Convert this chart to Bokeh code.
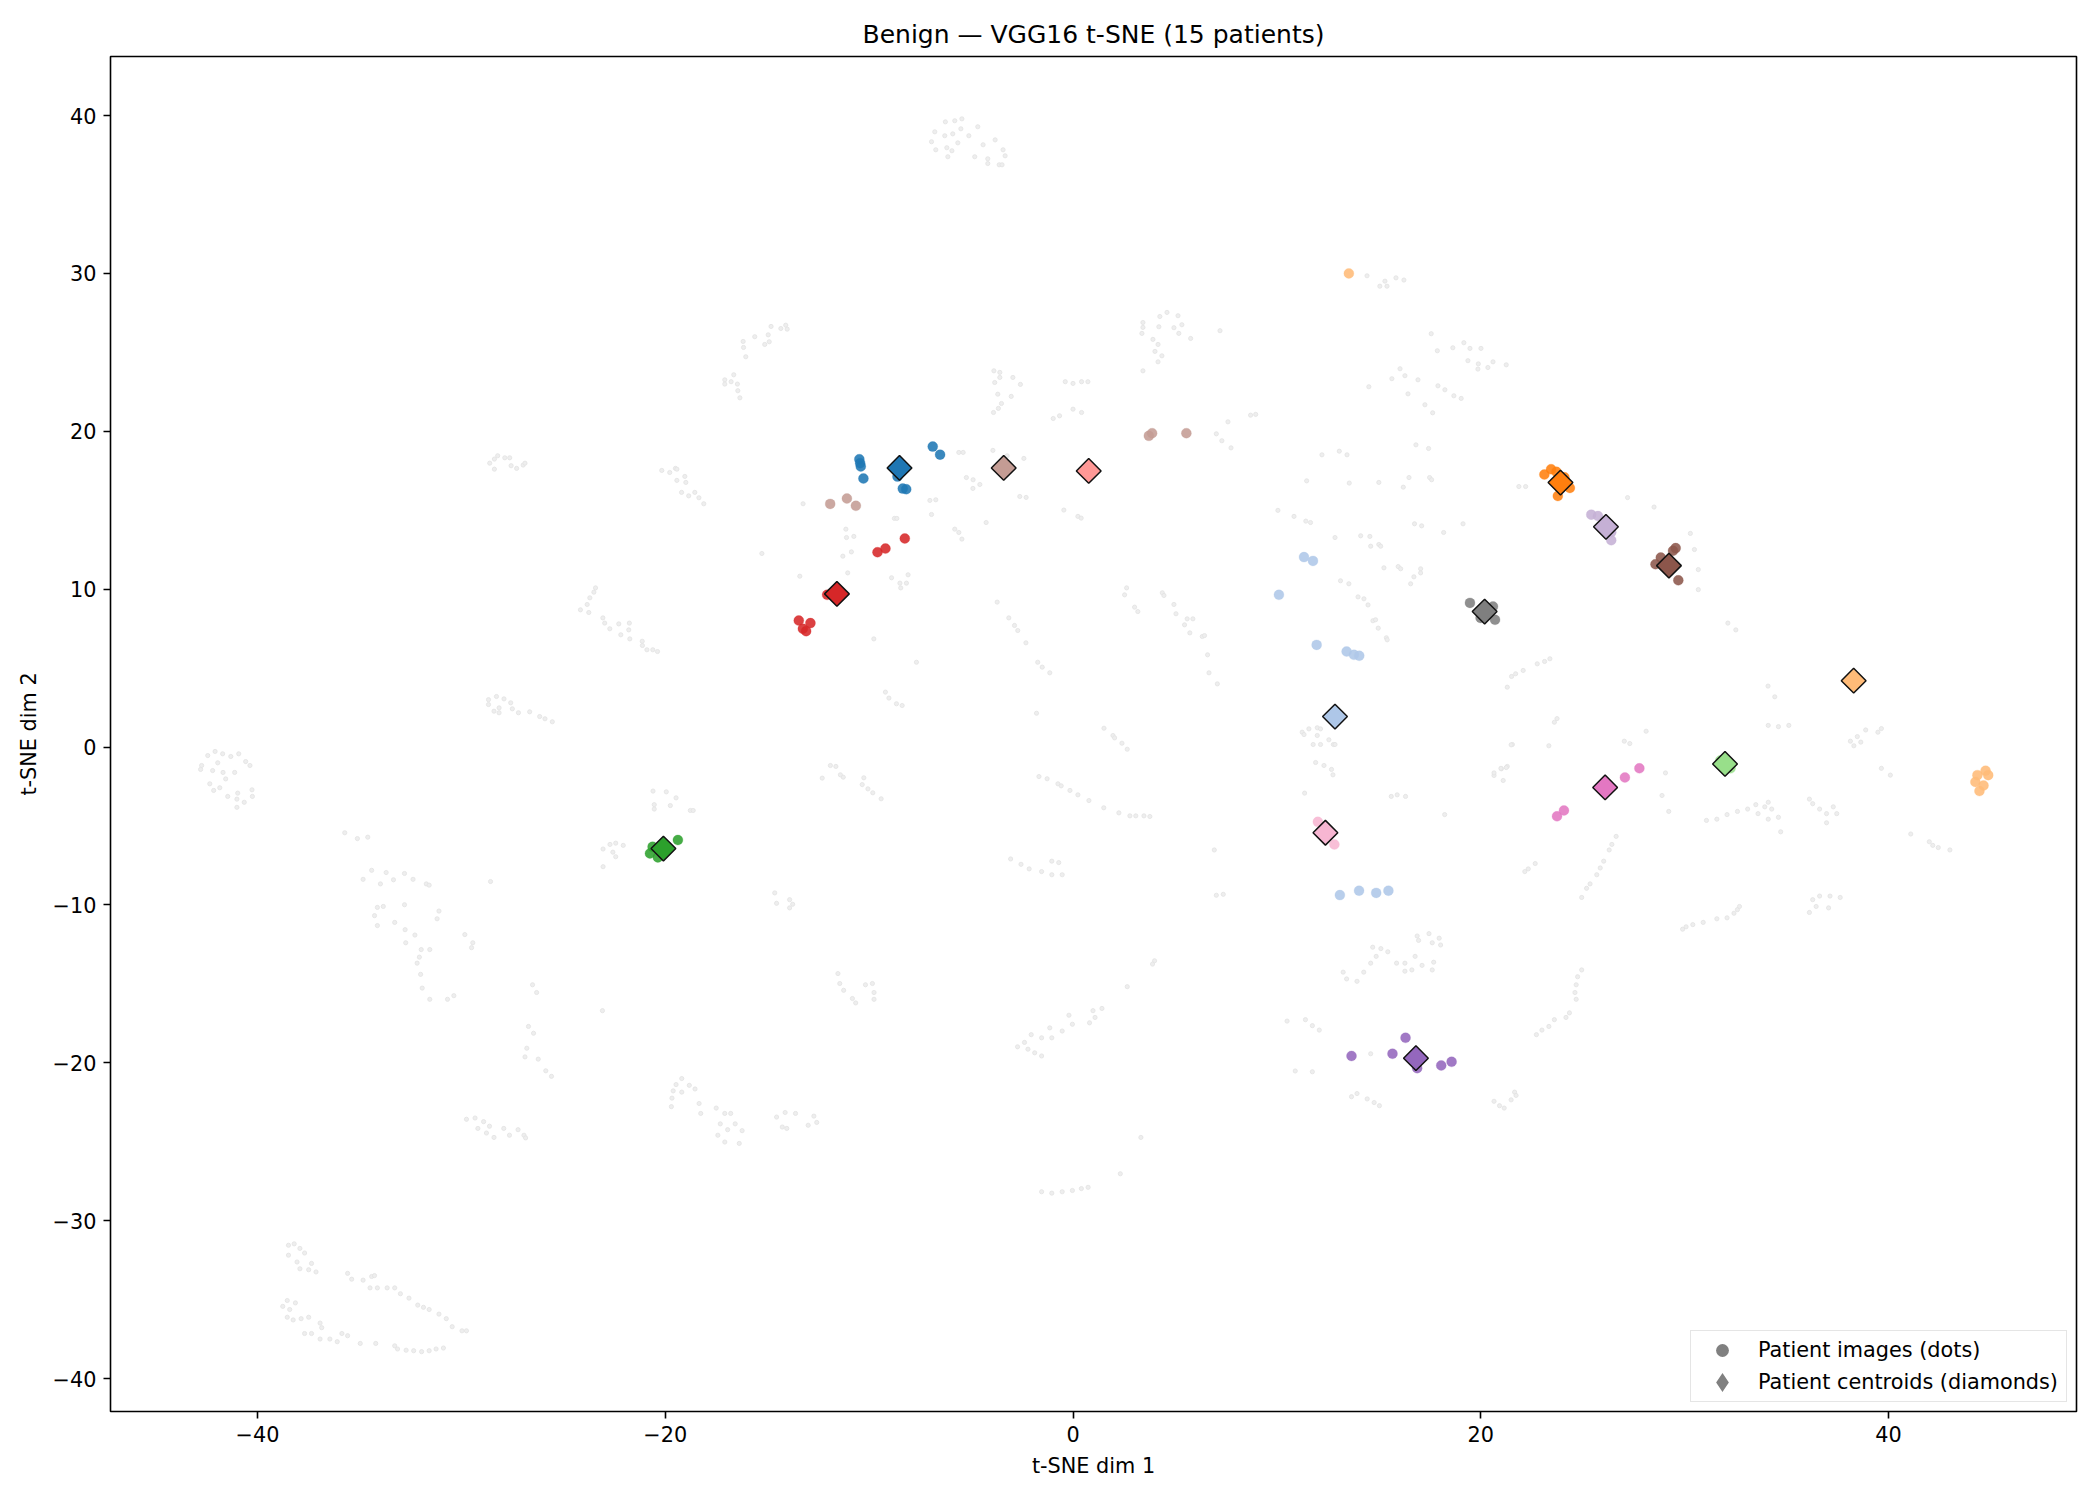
import math
from bokeh.plotting import figure
from bokeh.models import (Range1d, FixedTicker, CustomJSTickFormatter, Legend, LegendItem,
                          ColumnDataSource)
from bokeh.embed import file_html
from bokeh.resources import INLINE

TITLE = "Benign \u2014 VGG16 t-SNE (15 patients)"
X_LABEL = "t-SNE dim 1"
Y_LABEL = "t-SNE dim 2"
X_TICKS = [-40, -20, 0, 20, 40]
Y_TICKS = [-40, -30, -20, -10, 0, 10, 20, 30, 40]
LEGEND_LABELS = ["Patient images (dots)", "Patient centroids (diamonds)"]

# tab20 colours, one per patient
patient_colors = ["#1f77b4", "#aec7e8", "#ff7f0e", "#ffbb78", "#2ca02c",
                  "#98df8a", "#d62728", "#ff9896", "#9467bd", "#c5b0d5",
                  "#8c564b", "#c49c94", "#e377c2", "#f7b6d2", "#7f7f7f"]

# per-patient image embeddings
dot_x = [
    [-10.48, -10.44, -10.41, -10.28, -8.61, -8.35, -8.18, -6.88, -6.52],
    [11.33, 11.77, 10.10, 11.95, 13.42, 13.78, 14.04, 13.09, 14.03, 14.87, 15.47],
    [23.12, 23.45, 23.71, 24.10, 24.37, 23.78, 23.91],
    [13.53, 44.36, 44.76, 44.89, 44.26, 44.66, 44.46],
    [-20.75, -20.62, -20.36, -20.16, -19.38],
    [32.25, 31.75],
    [-13.45, -12.88, -13.25, -13.09, -9.59, -9.20, -8.25, -12.06],
    [0.77],
    [16.31, 15.67, 13.66, 16.88, 18.06, 18.57],
    [25.42, 25.75, 26.08, 26.40, 26.40],
    [28.57, 28.83, 29.43, 29.56, 29.69, 29.16],
    [-11.91, -11.09, -10.65, 3.72, 3.88, 5.56],
    [23.74, 24.08, 27.07, 27.78],
    [12.01, 12.82],
    [19.47, 19.99, 20.70, 20.60],
]
dot_y = [
    [18.23, 17.98, 17.77, 17.01, 17.13, 16.37, 16.33, 19.03, 18.52],
    [12.03, 11.79, 9.64, 6.47, 6.05, 5.84, 5.78, -9.38, -9.10, -9.24, -9.10],
    [17.26, 17.60, 17.43, 17.09, 16.41, 15.90, 16.41],
    [30.00, -1.78, -1.50, -1.78, -2.21, -2.44, -2.79],
    [-6.74, -6.32, -6.99, -6.57, -5.89],
    [-1.35, -0.85],
    [8.01, 7.85, 7.49, 7.34, 12.34, 12.57, 13.21, 9.64],
    [17.49],
    [-18.42, -19.43, -19.57, -20.34, -20.17, -19.94],
    [14.72, 14.63, 14.29, 13.61, 13.10],
    [11.58, 12.00, 12.43, 12.60, 10.56, 11.24],
    [15.40, 15.74, 15.28, 19.71, 19.88, 19.88],
    [-4.39, -4.02, -1.93, -1.35],
    [-4.74, -6.17],
    [9.13, 8.18, 8.06, 8.90],
]

# patient centroids
cent_x = [-8.51, 12.85, 23.91, 38.29, -20.09, 31.98, -11.58, 0.77, 16.82, 26.14,
          29.23, -3.40, 26.10, 12.38, 20.19]
cent_y = [17.68, 1.93, 16.75, 4.20, -6.43, -1.07, 9.70, 17.49, -19.71, 13.95,
          11.49, 17.68, -2.56, -5.43, 8.58]

# all other images of the class (background)
bg_x = [
    -28.61, -28.38, -28.22, -28.38, -27.87, -27.63, -27.56, -27.29, -26.97, -26.88,
    -6.26, -5.80, -5.45, -6.78, -6.29, -5.90, -5.50, -5.11, -4.67, -6.94, -5.65, -6.73,
    -6.19, -5.94, -6.14, -4.82, -4.41, -3.82, -4.18, -4.18, -3.43, -3.33, -3.62, -3.48,
    -16.18, -16.16, -16.05, -15.61, -15.12, -14.95, -14.90, -14.81, -14.33, -14.09,
    -14.02, -16.64, -17.08, -17.08, -16.77, -16.46, -16.44, -16.34,
    -20.17, -19.78, -19.50, -19.43, -19.04, -18.99, -19.43, -19.20, -18.85, -18.55,
    -18.35, -18.11,
    -3.88, -3.59, -3.59, -3.84, -2.95, -2.58, -3.69, -3.03, -3.51, -3.66, -3.90, -0.97,
    -0.66, -5.60, -5.39, -3.93, -3.23, -2.41, -5.23, -4.90, -4.57, -4.91, -2.61, -2.30,
    -7.02, -6.73, -6.94, -8.76, -8.64, -4.26, -5.80, -5.60, -5.45, -11.14, -11.11,
    -10.75, -13.24,
    14.42, 15.05, 15.30, 15.40, 15.84, 16.23,
    3.43, 3.43, 3.38, 4.26, 4.61, 5.15, 4.21, 4.95, 5.34, 5.19, 5.77, 3.92, 4.17, 4.02,
    4.36, 4.17, 3.43, 7.21,
    -0.38, 0.00, 0.42, 0.73, 0.00, 0.42,
    8.71, 8.96, 7.60, 7.03, 7.30, 7.75,
    17.57, 17.87, 18.63, 19.17, 19.47, 20.01, 19.37, 19.88, 19.86, 20.35, 20.60, 21.25,
    16.04, 16.28, 15.64, 14.51, 16.92, 16.43, 17.90, 18.24, 18.68, 19.04, 17.26, 17.64,
    12.21, 13.06, 13.44, 11.46, 13.55, 15.00, 16.20, 16.48, 17.44, 16.82, 17.49, 17.59,
    21.87, 22.20,
    -0.45, 0.24, 0.40,
    10.05, 10.84, 11.42, 11.65, 12.85, 14.11, 14.56, 16.75, 17.10, 18.18, 19.13,
    -28.67, -28.67, -28.28, -27.91, -27.58, -27.50, -27.20, -28.40, -28.15, -28.15,
    -26.65, -26.16, -25.90, -25.54,
    -42.44, -42.08, -41.71, -41.31, -40.92, -40.58, -40.37, -41.95, -42.20, -41.69,
    -41.12, -41.56, -42.74, -42.79, -42.34, -42.15, -41.85, -40.97, -40.27, -40.25,
    -41.46, -40.65, -41.01, -41.01,
    -15.26, -13.40, -11.29, -10.87, -11.05,
    -8.90, -8.49, -8.17, -8.09, -8.45,
    -3.72, -3.15, -2.87, -2.71, -2.31, -1.73, -1.51, -1.14,
    -9.77, -7.68,
    -9.20, -9.03, -8.66, -8.38,
    -1.79,
    -11.90, -11.63, -12.30, -11.41, -11.27, -10.26, -10.34, -10.06, -9.82, -9.41,
    -23.42, -23.50, -23.70, -23.83, -24.16, -23.75, -23.06, -22.97, -22.72, -22.28,
    -21.76, -21.79, -22.18, -21.74, -21.13, -21.12, -20.90, -20.61, -20.38,
    15.00, 15.09, 14.60,
    15.25, 15.95, 16.07, 17.05, 17.05, 16.72, 16.56,
    13.12, 13.53, 13.98, 14.27, 14.47, 14.71, 14.84, 14.97, 15.37, 15.41,
    2.63, 2.53, 4.38, 4.46, 4.95, 5.05, 3.02, 3.18, 5.60, 5.88, 5.47, 5.73, 6.34, 6.45,
    6.60, 6.67, 7.08,
    1.52, 1.96, 2.04, 2.40, 2.66,
    11.24, 11.33, 11.57, 11.98, 12.14, 11.98, 11.78, 12.14, 12.55, 12.77, 12.85, 11.90,
    12.31, 12.68, 12.75,
    11.36,
    15.61, 15.90, 16.31,
    21.55, 20.65, 21.01, 21.30, 21.10,
    21.30, 21.51, 21.71, 22.08, 22.77, 23.13, 23.39,
    -1.67, -1.27, -0.74, -0.58, -0.15, 0.24, 0.78, 1.51, 2.25, 2.79, 3.08, 3.48, 3.77,
    -35.72, -35.10, -34.59,
    -34.82, -34.40, -33.97, -33.69, -33.33, -32.79, -32.37, -31.72, -31.58, -34.12,
    -33.83, -32.79, -34.26, -34.12, -33.27, -32.76, -32.28, -32.73, -31.97, -31.55,
    -32.06, -32.17, -32.00, -31.92, -31.55, -30.68, -30.37, -31.10, -31.19, -29.83,
    -29.44, -29.50, -28.57,
    -26.51, -26.31, -26.71, -26.46, -26.79, -26.88, -26.23, -25.86, -25.58,
    -23.08,
    -23.05, -22.71, -22.43, -22.06, -22.57, -22.43, -23.05,
    -20.60, -19.95, -19.47, -20.54, -20.54, -19.75, -18.77, -18.63,
    -14.63, -14.54, -13.90, -13.75, -13.90,
    -11.53, -11.44, -11.25, -10.82, -10.66, -10.18, -9.84, -9.76, -9.76,
    -29.75, -29.33, -28.91, -28.62, -29.19, -28.77, -28.40, -27.92, -27.64, -27.22,
    -26.93, -26.85,
    -19.19, -19.47, -18.82, -19.61, -19.19, -19.67, -18.54, -18.34, -19.70, -18.26,
    -17.50, -17.08, -16.79, -17.30, -16.94, -16.57, -17.42, -17.08, -16.37, -16.23,
    -14.54, -14.12, -13.61, -14.26, -14.04, -12.99, -12.71, -12.57,
    -38.48, -38.20, -37.92, -37.69, -38.48, -38.06, -37.35, -37.92, -37.49, -37.13,
    -35.58, -35.38, -34.82, -34.40, -34.26, -34.48, -34.12, -33.64, -33.27, -32.99,
    -32.57, -32.14, -31.86, -31.58, -31.10, -30.74, -30.45, -29.97, -29.75,
    -38.54, -38.14, -38.76, -38.42, -38.54, -38.25, -37.86, -37.49, -36.93, -36.85,
    -37.69, -37.35, -36.93, -36.45, -36.09, -35.86, -35.58, -34.96, -34.20, -33.27,
    -33.13, -32.71, -32.34, -31.95, -31.58, -31.24, -30.88,
    -3.06, -2.55, -2.15, -1.04, -0.70, -1.54, -1.04, -0.53,
    6.93, 7.03, 7.37, 4.00, 3.90, 2.66,
    1.42, 0.98, 1.08, 0.81, -0.20, -0.03, -0.53, -1.14, -1.54, -1.04, -2.05, -2.38,
    -2.72, -2.21, -1.88, -1.54,
    3.33, 2.32,
    -1.54, -1.04, -0.53, -0.03, 0.41, 0.74,
    10.50, 11.40, 11.74, 12.08,
    10.90, 11.74,
    13.66, 13.93, 14.43, 14.77, 15.03,
    14.60,
    20.65, 20.92, 21.15, 21.49, 21.66, 21.73,
    18.23,
    14.70, 15.10, 15.44, 14.87, 15.87, 14.60, 14.26, 13.25, 13.42, 13.93, 16.28, 16.62,
    16.88, 16.95, 17.46, 17.62, 17.96, 18.03, 17.12, 16.78, 16.28, 17.62, 17.69,
    20.65, 20.99, 21.25, 21.49, 23.34, 23.74, 23.61, 27.04, 27.31, 28.11,
    29.06, 28.89, 29.22,
    26.64, 26.43, 26.30, 26.03, 25.86, 25.69, 25.36, 25.19, 24.95,
    22.67, 22.33, 22.16,
    24.95, 24.75, 24.68, 24.62, 24.68, 24.35, 24.18, 23.61, 23.34, 23.00, 22.73,
    30.07, 29.90, 30.40, 30.91, 31.58, 32.08, 32.42, 32.59, 32.69,
    36.28, 36.62, 37.13, 37.63, 36.45, 37.06, 36.12,
    31.07, 31.58, 32.08, 32.59, 33.09, 33.49, 33.93, 34.10, 34.27, 34.60, 34.71, 33.60,
    34.10,
    36.12, 36.28, 36.62, 36.96, 37.29, 37.46, 36.96,
    34.10, 34.60, 35.11,
    38.13, 38.47, 38.88, 39.48, 38.30, 38.64, 39.65,
    39.65, 40.09,
    41.09, 42.00, 42.44, 43.01, 42.17,
    30.28, 30.48, 30.67, 30.67, 32.12, 32.51, 34.09, 34.42, 28.50, 27.20,
]
bg_y = [
    17.98, 18.24, 18.45, 17.60, 18.32, 18.32, 17.82, 17.65, 17.86, 17.98,
    39.60, 39.67, 39.79, 38.97, 38.72, 38.84, 39.16, 38.72, 39.29, 38.34, 38.27, 37.83,
    37.96, 37.77, 37.39, 37.39, 38.15, 38.46, 37.26, 36.96, 37.83, 37.45, 36.88, 36.88,
    25.69, 25.31, 24.72, 25.99, 25.50, 26.11, 25.67, 26.64, 26.51, 26.72,
    26.47, 23.58, 23.26, 22.99, 23.14, 22.99, 22.57, 22.12,
    17.52, 17.39, 17.65, 17.60, 17.14, 16.76, 16.89, 16.13, 15.91, 16.13,
    15.79, 15.41,
    23.83, 23.73, 23.41, 23.09, 23.41, 22.97, 22.35, 22.21, 21.76, 21.45, 21.19, 20.81,
    20.98, 18.66, 18.66, 18.79, 18.45, 18.28, 17.07, 16.93, 16.63, 16.38, 15.87, 15.81,
    15.62, 15.66, 14.73, 14.48, 14.48, 14.22, 13.80, 13.59, 13.17, 13.80, 13.27,
    13.34, 15.41,
    29.85, 29.19, 29.51, 29.19, 29.72, 29.58,
    26.89, 26.58, 26.20, 27.27, 27.53, 27.32, 26.62, 26.56, 26.75, 26.20, 25.88, 25.82,
    25.50, 25.06, 24.78, 24.40, 23.83, 26.37,
    23.14, 23.03, 23.14, 23.14, 21.40, 21.19,
    21.02, 21.07, 20.60, 19.84, 19.40, 18.95,
    26.18, 25.10, 25.29, 25.61, 25.25, 25.25, 24.47, 24.27, 23.94, 24.04, 24.40, 24.21,
    23.96, 23.52, 23.33, 22.82, 23.26, 22.37, 22.88, 22.63, 22.25, 22.08, 21.68, 21.17,
    18.51, 18.74, 18.51, 16.86, 16.72, 16.76, 16.46, 17.07, 18.91, 19.14, 17.07, 16.93,
    16.50, 16.50,
    15.01, 14.61, 14.50,
    14.99, 14.61, 14.31, 14.22, 13.27, 13.38, 13.34, 14.14, 14.01, 13.59, 14.14,
    3.00, 2.69, 3.20, 3.05, 2.80, 2.42, 2.17, 2.27, 2.48, 2.17,
    2.23, 1.93, 1.79, 1.60,
    -0.54, -0.28, -0.43, -0.60, -0.43, -0.92, -1.17, -1.00, -1.49, -1.61,
    -1.61, -2.02, -1.17, -1.42, -2.33, -2.75, -2.58, -2.92, -2.71, -3.13,
    -3.13, -3.50, -3.82, -3.30,
    12.26, 10.82, 12.09, 12.36, 11.03,
    10.72, 10.38, 10.38, 10.91, 10.08,
    9.18, 8.18, 7.70, 7.38, 6.60, 5.37, 5.06, 4.70,
    6.85, 5.37,
    3.48, 3.10, 2.74, 2.63,
    2.14,
    -1.17, -1.23, -1.97, -1.76, -1.91, -1.95, -2.38, -2.65, -2.90, -3.28,
    10.08, 9.81, 9.45, 9.03, 8.69, 8.52, 8.18, 7.85, 7.49, 7.80,
    7.85, 7.42, 7.11, 6.85, 6.70, 6.43, 6.16, 6.16, 6.05,
    12.83, 12.72, 12.72,
    11.35, 11.43, 11.29, 11.29, 11.03, 10.78, 10.34,
    10.53, 10.34, 9.51, 9.39, 9.00, 8.00, 8.06, 7.53, 6.92, 6.79,
    10.08, 9.64, 9.77, 9.60, 9.03, 8.44, 8.86, 8.58, 8.12, 8.12, 7.74, 7.23, 7.00, 7.06,
    5.84, 4.70, 4.00,
    1.19, 0.73, 0.58, 0.24, -0.14,
    0.94, 0.79, 1.15, 1.22, 1.15, 0.73, 0.16, 0.16, 0.46, 0.16, 0.16, -0.98,
    -1.17, -1.42, -1.76,
    -2.92,
    -3.13, -3.03, -3.13,
    0.16, -1.80, -1.38, -1.23, -2.12,
    3.79, 4.47, 4.64, 4.85, 5.27, 5.42, 5.59,
    -1.87, -2.01, -2.33, -2.46, -2.75, -3.03, -3.39, -3.85, -4.17, -4.36, -4.36, -4.36, -4.40,
    -5.43, -5.80, -5.71,
    -8.38, -7.81, -8.67, -7.95, -8.41, -8.01, -8.38, -8.67, -8.75, -10.16,
    -10.10, -9.99, -10.68, -11.31, -11.11, -11.57, -11.91, -12.40, -12.83, -12.83,
    -13.31, -13.69, -14.40, -15.27, -15.98, -15.98, -15.75, -10.39, -10.88, -11.88,
    -12.40, -12.71, -8.52,
    -15.06, -15.55, -17.70, -18.13, -19.08, -19.63, -19.77, -20.51, -20.86,
    -16.70,
    -6.46, -6.17, -6.09, -6.23, -6.66, -6.95, -7.58,
    -2.79, -2.84, -3.22, -3.65, -3.93, -3.71, -4.02, -4.02,
    -9.24, -9.90, -9.67, -9.96, -10.19,
    -14.35, -14.98, -15.41, -15.93, -16.21, -15.06, -14.98, -15.55, -15.98,
    -23.58, -23.50, -23.73, -24.02, -24.16, -24.45, -24.73, -24.16, -24.59, -24.24,
    -24.59, -24.76,
    -21.00, -21.38, -21.43, -21.78, -21.86, -22.24, -21.66, -22.58, -22.78, -23.21,
    -22.87, -23.21, -23.21, -23.87, -24.24, -23.87, -24.59, -25.02, -25.11, -24.30,
    -23.44, -23.15, -23.21, -24.07, -24.16, -23.96, -23.38, -23.78,
    -31.56, -31.47, -31.76, -32.05, -32.19, -32.62, -32.71, -33.05, -33.11, -33.25,
    -33.34, -33.71, -33.77, -33.54, -33.48, -34.26, -34.26, -34.26, -34.26, -34.63,
    -34.91, -35.35, -35.49, -35.63, -35.92, -36.21, -36.72, -36.98, -36.98,
    -35.06, -35.21, -35.43, -35.63, -36.12, -36.29, -36.21, -36.12, -36.49, -36.78,
    -37.15, -37.15, -37.50, -37.50, -37.67, -37.15, -37.29, -37.78, -37.78, -37.93,
    -38.13, -38.21, -38.24, -38.30, -38.24, -38.13, -38.07,
    -7.09, -7.43, -7.72, -7.23, -7.32, -7.89, -8.09, -8.09,
    -6.52, -9.39, -9.33, -13.54, -13.75, -15.18,
    -16.56, -16.70, -17.13, -17.47, -16.99, -17.56, -17.99, -17.79, -18.42, -18.42,
    -18.22, -18.71, -18.99, -19.14, -19.37, -19.57,
    -24.73, -27.03,
    -28.17, -28.26, -28.17, -28.09, -27.97, -27.89,
    -17.36, -17.27, -17.65, -17.93,
    -20.52, -20.57,
    -22.15, -21.95, -22.29, -22.52, -22.72,
    -19.43,
    -22.44, -22.72, -22.87, -22.35, -21.86, -22.07,
    -4.28,
    -12.68, -12.77, -12.97, -13.26, -13.69, -13.69, -14.26, -14.26, -14.69, -14.84,
    -14.20, -14.12, -11.97, -12.25, -11.82, -12.40, -12.11, -12.54, -13.83, -13.26,
    -13.69, -14.12, -13.63,
    -1.64, -1.35, -1.30, 0.14, 0.08, 1.80, 1.57, 0.37, 0.22, 1.00,
    -1.64, -3.07, -4.08,
    -5.66, -6.17, -6.52, -7.23, -7.66, -8.09, -8.67, -8.95, -9.53,
    -7.38, -7.72, -7.89,
    -14.12, -14.55, -15.06, -15.55, -15.98, -16.84, -17.13, -17.27, -17.70, -17.93, -18.22,
    -11.39, -11.54, -11.25, -11.11, -10.88, -10.82, -10.53, -10.30, -10.10,
    -9.67, -9.44, -9.44, -9.53, -10.10, -10.19, -10.48,
    -4.65, -4.57, -4.28, -4.08, -3.93, -3.65, -3.79, -3.50, -3.93, -4.45, -5.37, -4.22,
    -4.57,
    -3.30, -3.59, -3.93, -4.22, -3.79, -4.22, -4.80,
    1.37, 1.29, 1.37,
    0.37, 0.66, 1.08, 0.94, 0.08, 0.31, 1.17,
    -1.35, -1.78,
    -5.51, -6.00, -6.37, -6.52, -6.23,
    13.53, 12.51, 11.24, 9.97, 7.85, 7.42, 3.86, 3.18, 15.20, 15.80,
]

FONT = "DejaVu Sans"

p = figure(width=2084, height=1484, output_backend="svg", toolbar_location=None,
           x_range=Range1d(-47.21, 49.22), y_range=Range1d(-42.09, 43.74),
           title=TITLE)
p.min_border_left = 110
p.min_border_right = 8
p.min_border_top = 56
p.min_border_bottom = 73
p.background_fill_color = "white"
p.border_fill_color = "white"
p.outline_line_color = "black"
p.outline_line_width = 1.6
p.xgrid.visible = False
p.ygrid.visible = False

p.title.align = "center"
p.title.text_font = FONT
p.title.text_font_size = "25px"
p.title.text_font_style = "normal"
p.title.text_color = "black"
p.title.standoff = 15

minus_fmt = CustomJSTickFormatter(code="return tick < 0 ? '\\u2212' + Math.abs(tick) : String(tick);")
for ax, ticks, lab in ((p.xaxis[0], X_TICKS, X_LABEL), (p.yaxis[0], Y_TICKS, Y_LABEL)):
    ax.ticker = FixedTicker(ticks=ticks)
    ax.formatter = minus_fmt
    ax.axis_label = lab
    ax.axis_label_text_font = FONT
    ax.axis_label_text_font_size = "20.8px"
    ax.axis_label_text_font_style = "normal"
    ax.axis_label_text_color = "black"
    ax.major_label_text_font = FONT
    ax.major_label_text_font_size = "20.8px"
    ax.major_label_text_color = "black"
    ax.major_tick_out = 7
    ax.major_tick_in = 0
    ax.major_tick_line_width = 1.6
    ax.major_tick_line_color = "black"
    ax.minor_tick_line_color = None
    ax.axis_line_color = None
    ax.major_label_standoff = 7
    ax.axis_label_standoff = 9

# background images
p.scatter(x=bg_x, y=bg_y, marker="circle", size=4.2,
          fill_color="#eeeeee", line_color="#e2e2e2", line_width=0.8)

# patient images
xs, ys, cs = [], [], []
for i, col in enumerate(patient_colors):
    xs.extend(dot_x[i]); ys.extend(dot_y[i]); cs.extend([col] * len(dot_x[i]))
src_dots = ColumnDataSource(dict(x=xs, y=ys, c=cs))
p.scatter(x="x", y="y", source=src_dots, marker="circle", size=10,
          fill_color="c", fill_alpha=0.88, line_color="c", line_alpha=0.5, line_width=0.5)

# patient centroids
src_cent = ColumnDataSource(dict(x=cent_x, y=cent_y, c=patient_colors))
p.scatter(x="x", y="y", source=src_cent, marker="square", angle=math.pi / 4, size=17.5,
          fill_color="c", line_color="#111111", line_width=1.5)

# legend proxies (hidden renderers, only used for the legend swatches)
r_dot = p.scatter(x=cent_x[:1], y=cent_y[:1], marker="circle", size=13,
                  fill_color="#808080", line_color=None, visible=False)
r_dia = p.scatter(x=cent_x[:1], y=cent_y[:1], marker="diamond", size=14,
                  fill_color="#808080", line_color="#808080", line_width=3.5,
                  line_join="miter", visible=False)
legend = Legend(items=[LegendItem(label=LEGEND_LABELS[0], renderers=[r_dot]),
                       LegendItem(label=LEGEND_LABELS[1], renderers=[r_dia])],
                location="bottom_right")
legend.label_text_font = FONT
legend.label_text_font_size = "20.8px"
legend.label_text_color = "black"
legend.border_line_color = "#cccccc"
legend.border_line_width = 1.6
legend.background_fill_alpha = 0.8
legend.padding = 3
legend.spacing = 0
legend.glyph_height = 32
legend.glyph_width = 56
legend.label_standoff = 8
legend.label_width = 305
legend.margin = 9
p.add_layout(legend)

open("out.html", "w").write(file_html(p, INLINE))
